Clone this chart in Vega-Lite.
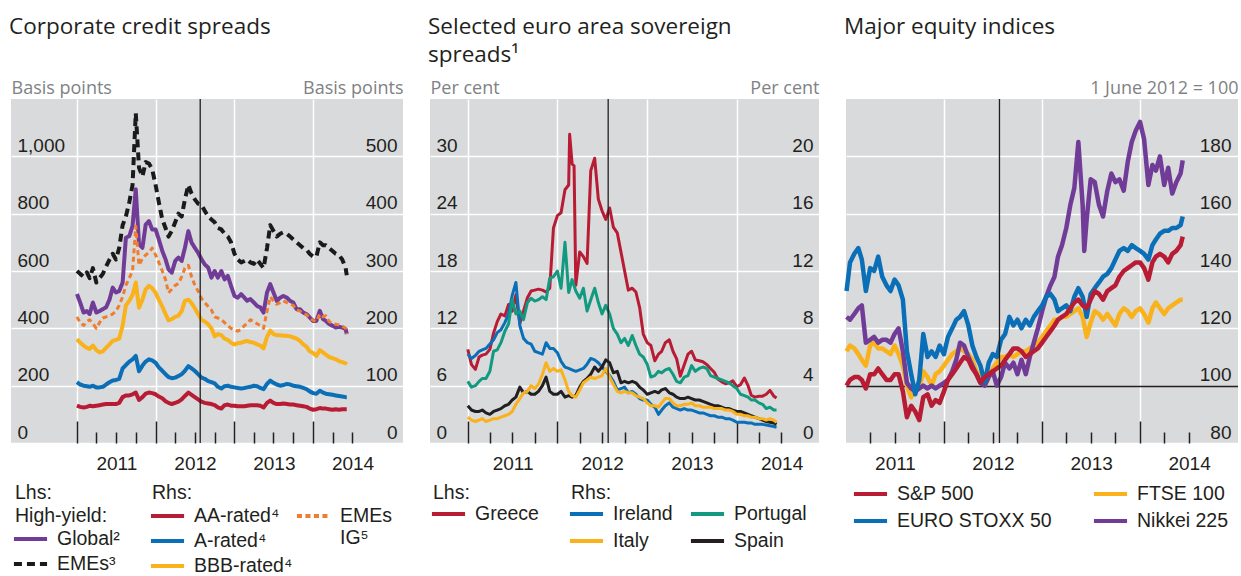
{
  "$schema": "https://vega.github.io/schema/vega-lite/v6.json",
  "background": "white",
  "padding": {"left": 9, "top": 16, "right": 0, "bottom": 0},
  "bounds": "flush",
  "spacing": 27,
  "resolve": {"scale": {"color": "independent", "strokeDash": "independent"}},
  "config": {
    "view": {"fill": "#d9dadb", "stroke": null},
    "font": "Liberation Sans",
    "mark": {"invalid": "filter"},
    "line": {"strokeJoin": "round"},
    "axis": {"domain": false, "labelFont": "Liberation Sans", "labelFontSize": 19, "labelColor": "#231f20", "labelOverlap": false, "titleFont": "Open Sans", "titleFontSize": 18, "titleFontWeight": "normal", "titleColor": "#808285"},
    "legend": {"orient": "none", "padding": 0, "symbolType": "M-1.25,0L1.25,0", "symbolSize": 702, "symbolStrokeWidth": 4, "labelFont": "Liberation Sans", "labelFontSize": 19.5, "labelColor": "#231f20", "labelOffset": 11, "labelLimit": 400, "titleFont": "Liberation Sans", "titleFontSize": 19.5, "titleFontWeight": "normal", "titleColor": "#231f20", "titleLineHeight": 23, "titlePadding": -3, "titleLimit": 400, "rowPadding": 0},
    "title": {"anchor": "start", "frame": "group", "font": "Open Sans", "fontSize": 22.5, "fontWeight": "normal", "color": "#231f20", "dx": -2, "lineHeight": 28}
  },
  "datasets": {
    "p1": [
      {"d":"2011-01-01","global":520,"emes":600,"aa":65,"a":106,"bbb":181,"emes_ig":220},
      {"d":"2011-01-16","global":490,"emes":590,"aa":63,"a":102,"bbb":175,"emes_ig":210},
      {"d":"2011-02-01","global":455,"emes":580,"aa":62,"a":100,"bbb":170,"emes_ig":205},
      {"d":"2011-02-16","global":460,"emes":595,"aa":63,"a":99,"bbb":166,"emes_ig":212},
      {"d":"2011-03-01","global":450,"emes":575,"aa":65,"a":98,"bbb":164,"emes_ig":215},
      {"d":"2011-03-16","global":490,"emes":610,"aa":64,"a":100,"bbb":170,"emes_ig":208},
      {"d":"2011-04-01","global":455,"emes":560,"aa":65,"a":97,"bbb":162,"emes_ig":200},
      {"d":"2011-04-16","global":460,"emes":575,"aa":66,"a":97,"bbb":158,"emes_ig":210},
      {"d":"2011-05-01","global":467,"emes":590,"aa":67,"a":98,"bbb":160,"emes_ig":218},
      {"d":"2011-05-16","global":473,"emes":615,"aa":68,"a":102,"bbb":166,"emes_ig":220},
      {"d":"2011-06-01","global":500,"emes":640,"aa":68,"a":106,"bbb":172,"emes_ig":222},
      {"d":"2011-06-16","global":542,"emes":660,"aa":68,"a":109,"bbb":178,"emes_ig":225},
      {"d":"2011-07-01","global":525,"emes":640,"aa":68,"a":110,"bbb":180,"emes_ig":230},
      {"d":"2011-07-16","global":530,"emes":680,"aa":70,"a":112,"bbb":182,"emes_ig":240},
      {"d":"2011-08-01","global":560,"emes":760,"aa":80,"a":130,"bbb":205,"emes_ig":255},
      {"d":"2011-08-16","global":716,"emes":790,"aa":83,"a":136,"bbb":240,"emes_ig":275},
      {"d":"2011-09-01","global":722,"emes":840,"aa":83,"a":142,"bbb":248,"emes_ig":288},
      {"d":"2011-09-16","global":757,"emes":900,"aa":85,"a":146,"bbb":258,"emes_ig":300},
      {"d":"2011-10-01","global":885,"emes":1150,"aa":88,"a":152,"bbb":280,"emes_ig":378},
      {"d":"2011-10-16","global":693,"emes":960,"aa":75,"a":125,"bbb":236,"emes_ig":310},
      {"d":"2011-11-01","global":681,"emes":930,"aa":80,"a":135,"bbb":250,"emes_ig":322},
      {"d":"2011-11-16","global":762,"emes":980,"aa":86,"a":142,"bbb":268,"emes_ig":328},
      {"d":"2011-12-01","global":774,"emes":975,"aa":88,"a":146,"bbb":274,"emes_ig":332},
      {"d":"2011-12-16","global":745,"emes":955,"aa":87,"a":144,"bbb":270,"emes_ig":340},
      {"d":"2012-01-01","global":745,"emes":900,"aa":85,"a":140,"bbb":262,"emes_ig":328},
      {"d":"2012-01-16","global":710,"emes":840,"aa":81,"a":132,"bbb":250,"emes_ig":315},
      {"d":"2012-02-01","global":670,"emes":780,"aa":78,"a":126,"bbb":238,"emes_ig":300},
      {"d":"2012-02-16","global":641,"emes":750,"aa":73,"a":120,"bbb":225,"emes_ig":285},
      {"d":"2012-03-01","global":606,"emes":720,"aa":70,"a":115,"bbb":214,"emes_ig":262},
      {"d":"2012-03-16","global":594,"emes":740,"aa":68,"a":113,"bbb":216,"emes_ig":268},
      {"d":"2012-04-01","global":635,"emes":770,"aa":70,"a":114,"bbb":220,"emes_ig":275},
      {"d":"2012-04-16","global":647,"emes":800,"aa":72,"a":117,"bbb":222,"emes_ig":278},
      {"d":"2012-05-01","global":635,"emes":790,"aa":76,"a":120,"bbb":230,"emes_ig":290},
      {"d":"2012-05-16","global":681,"emes":850,"aa":82,"a":126,"bbb":248,"emes_ig":305},
      {"d":"2012-06-01","global":739,"emes":900,"aa":88,"a":134,"bbb":250,"emes_ig":310},
      {"d":"2012-06-16","global":699,"emes":870,"aa":84,"a":130,"bbb":244,"emes_ig":290},
      {"d":"2012-07-01","global":681,"emes":850,"aa":80,"a":126,"bbb":235,"emes_ig":275},
      {"d":"2012-07-16","global":664,"emes":835,"aa":76,"a":120,"bbb":225,"emes_ig":265},
      {"d":"2012-08-01","global":641,"emes":830,"aa":72,"a":114,"bbb":215,"emes_ig":252},
      {"d":"2012-08-16","global":623,"emes":810,"aa":70,"a":112,"bbb":212,"emes_ig":245},
      {"d":"2012-09-01","global":612,"emes":790,"aa":69,"a":108,"bbb":207,"emes_ig":238},
      {"d":"2012-09-16","global":577,"emes":780,"aa":68,"a":106,"bbb":200,"emes_ig":232},
      {"d":"2012-10-01","global":600,"emes":770,"aa":66,"a":104,"bbb":186,"emes_ig":220},
      {"d":"2012-10-16","global":577,"emes":750,"aa":62,"a":98,"bbb":190,"emes_ig":218},
      {"d":"2012-11-01","global":600,"emes":745,"aa":60,"a":95,"bbb":188,"emes_ig":215},
      {"d":"2012-11-16","global":571,"emes":730,"aa":66,"a":99,"bbb":182,"emes_ig":210},
      {"d":"2012-12-01","global":583,"emes":720,"aa":67,"a":100,"bbb":180,"emes_ig":205},
      {"d":"2012-12-16","global":548,"emes":700,"aa":65,"a":98,"bbb":175,"emes_ig":200},
      {"d":"2013-01-01","global":513,"emes":660,"aa":65,"a":97,"bbb":172,"emes_ig":197},
      {"d":"2013-01-16","global":507,"emes":640,"aa":64,"a":96,"bbb":174,"emes_ig":195},
      {"d":"2013-02-01","global":519,"emes":630,"aa":64,"a":95,"bbb":175,"emes_ig":198},
      {"d":"2013-02-16","global":507,"emes":635,"aa":64,"a":96,"bbb":177,"emes_ig":205},
      {"d":"2013-03-01","global":496,"emes":640,"aa":65,"a":97,"bbb":178,"emes_ig":208},
      {"d":"2013-03-16","global":502,"emes":630,"aa":66,"a":98,"bbb":176,"emes_ig":215},
      {"d":"2013-04-01","global":490,"emes":625,"aa":66,"a":100,"bbb":175,"emes_ig":212},
      {"d":"2013-04-16","global":478,"emes":640,"aa":66,"a":99,"bbb":172,"emes_ig":208},
      {"d":"2013-05-01","global":473,"emes":625,"aa":65,"a":96,"bbb":170,"emes_ig":205},
      {"d":"2013-05-16","global":455,"emes":610,"aa":62,"a":94,"bbb":165,"emes_ig":200},
      {"d":"2013-06-01","global":525,"emes":680,"aa":70,"a":103,"bbb":185,"emes_ig":230},
      {"d":"2013-06-16","global":554,"emes":760,"aa":74,"a":109,"bbb":196,"emes_ig":255},
      {"d":"2013-07-01","global":525,"emes":740,"aa":70,"a":105,"bbb":190,"emes_ig":248},
      {"d":"2013-07-16","global":496,"emes":720,"aa":68,"a":102,"bbb":188,"emes_ig":242},
      {"d":"2013-08-01","global":507,"emes":730,"aa":68,"a":100,"bbb":188,"emes_ig":245},
      {"d":"2013-08-16","global":513,"emes":735,"aa":69,"a":101,"bbb":187,"emes_ig":248},
      {"d":"2013-09-01","global":507,"emes":730,"aa":68,"a":103,"bbb":187,"emes_ig":245},
      {"d":"2013-09-16","global":496,"emes":720,"aa":67,"a":102,"bbb":186,"emes_ig":242},
      {"d":"2013-10-01","global":490,"emes":710,"aa":67,"a":100,"bbb":184,"emes_ig":240},
      {"d":"2013-10-16","global":467,"emes":700,"aa":66,"a":99,"bbb":182,"emes_ig":232},
      {"d":"2013-11-01","global":467,"emes":690,"aa":65,"a":98,"bbb":178,"emes_ig":230},
      {"d":"2013-11-16","global":455,"emes":680,"aa":64,"a":96,"bbb":172,"emes_ig":226},
      {"d":"2013-12-01","global":450,"emes":675,"aa":63,"a":94,"bbb":168,"emes_ig":224},
      {"d":"2013-12-16","global":438,"emes":660,"aa":60,"a":90,"bbb":160,"emes_ig":218},
      {"d":"2014-01-01","global":426,"emes":650,"aa":58,"a":87,"bbb":157,"emes_ig":214},
      {"d":"2014-01-16","global":426,"emes":650,"aa":59,"a":86,"bbb":152,"emes_ig":212},
      {"d":"2014-02-01","global":461,"emes":700,"aa":61,"a":91,"bbb":162,"emes_ig":225},
      {"d":"2014-02-16","global":432,"emes":690,"aa":60,"a":88,"bbb":158,"emes_ig":220},
      {"d":"2014-03-01","global":426,"emes":690,"aa":60,"a":86,"bbb":154,"emes_ig":222},
      {"d":"2014-03-16","global":415,"emes":680,"aa":59,"a":85,"bbb":150,"emes_ig":212},
      {"d":"2014-04-01","global":409,"emes":670,"aa":58,"a":84,"bbb":148,"emes_ig":208},
      {"d":"2014-04-16","global":403,"emes":660,"aa":59,"a":83,"bbb":146,"emes_ig":207},
      {"d":"2014-05-01","global":405,"emes":655,"aa":58,"a":82,"bbb":143,"emes_ig":206},
      {"d":"2014-05-16","global":403,"emes":640,"aa":59,"a":81,"bbb":141,"emes_ig":204},
      {"d":"2014-06-01","global":397,"emes":610,"aa":59,"a":80,"bbb":139,"emes_ig":200},
      {"d":"2014-06-06","global":380,"emes":585,"aa":59,"a":80,"bbb":137,"emes_ig":190}
    ],
    "p2": [
      {"d":"2011-01-01","greece":9.8,"ireland":6.2,"italy":1.8,"portugal":4.3,"spain":2.6},
      {"d":"2011-01-16","greece":8.2,"ireland":5.9,"italy":1.6,"portugal":3.9,"spain":2.3},
      {"d":"2011-02-01","greece":7.7,"ireland":6.1,"italy":1.5,"portugal":4.0,"spain":2.2},
      {"d":"2011-02-16","greece":9.0,"ireland":6.4,"italy":1.6,"portugal":4.3,"spain":2.2},
      {"d":"2011-03-01","greece":9.2,"ireland":6.5,"italy":1.7,"portugal":4.5,"spain":2.3},
      {"d":"2011-03-16","greece":9.3,"ireland":6.6,"italy":1.5,"portugal":4.5,"spain":2.1},
      {"d":"2011-04-01","greece":9.8,"ireland":6.9,"italy":1.6,"portugal":5.0,"spain":2.0},
      {"d":"2011-04-16","greece":11.5,"ireland":7.2,"italy":1.7,"portugal":6.4,"spain":2.2},
      {"d":"2011-05-01","greece":12.7,"ireland":7.7,"italy":1.7,"portugal":6.5,"spain":2.3},
      {"d":"2011-05-16","greece":13.5,"ireland":7.9,"italy":1.8,"portugal":7.0,"spain":2.4},
      {"d":"2011-06-01","greece":13.3,"ireland":8.4,"italy":1.9,"portugal":7.8,"spain":2.6},
      {"d":"2011-06-16","greece":14.5,"ireland":9.0,"italy":2.0,"portugal":8.3,"spain":2.7},
      {"d":"2011-07-01","greece":13.8,"ireland":10.3,"italy":2.2,"portugal":10.0,"spain":3.0},
      {"d":"2011-07-16","greece":15.5,"ireland":11.2,"italy":2.7,"portugal":9.0,"spain":3.2},
      {"d":"2011-08-01","greece":12.5,"ireland":8.2,"italy":3.1,"portugal":9.2,"spain":3.9},
      {"d":"2011-08-16","greece":13.8,"ireland":7.3,"italy":3.5,"portugal":8.6,"spain":3.5},
      {"d":"2011-09-01","greece":15.2,"ireland":7.0,"italy":3.6,"portugal":9.8,"spain":3.6},
      {"d":"2011-09-16","greece":15.9,"ireland":6.9,"italy":4.0,"portugal":10.1,"spain":3.4},
      {"d":"2011-10-01","greece":16.0,"ireland":6.4,"italy":3.8,"portugal":9.9,"spain":3.4},
      {"d":"2011-10-16","greece":16.1,"ireland":6.3,"italy":4.1,"portugal":10.0,"spain":3.6},
      {"d":"2011-11-01","greece":16.0,"ireland":6.2,"italy":4.8,"portugal":10.2,"spain":4.0},
      {"d":"2011-11-16","greece":15.8,"ireland":7.0,"italy":5.6,"portugal":10.0,"spain":4.6},
      {"d":"2011-12-01","greece":16.2,"ireland":6.6,"italy":5.0,"portugal":11.5,"spain":3.6},
      {"d":"2011-12-16","greece":22.5,"ireland":6.6,"italy":5.2,"portugal":11.6,"spain":3.4},
      {"d":"2012-01-01","greece":23.8,"ireland":6.3,"italy":5.0,"portugal":12.0,"spain":3.4},
      {"d":"2012-01-16","greece":24.1,"ireland":5.7,"italy":5.1,"portugal":10.8,"spain":3.6},
      {"d":"2012-02-01","greece":26.5,"ireland":5.3,"italy":4.4,"portugal":14.0,"spain":3.2},
      {"d":"2012-02-16","greece":27.0,"ireland":5.2,"italy":3.6,"portugal":10.5,"spain":3.3},
      {"d":"2012-02-20","greece":32.3},
      {"d":"2012-03-01","greece":29.2,"ireland":5.1,"italy":3.3,"portugal":11.4,"spain":3.2},
      {"d":"2012-03-09","greece":29.0},
      {"d":"2012-03-16","greece":16.5,"ireland":5.0,"italy":3.2,"portugal":10.6,"spain":3.3},
      {"d":"2012-04-01","greece":20.0,"ireland":5.1,"italy":3.7,"portugal":10.1,"spain":3.9},
      {"d":"2012-04-16","greece":19.5,"ireland":5.2,"italy":4.2,"portugal":10.8,"spain":4.3},
      {"d":"2012-05-01","greece":18.8,"ireland":5.5,"italy":4.4,"portugal":9.2,"spain":4.5},
      {"d":"2012-05-16","greece":28.5,"ireland":5.9,"italy":4.6,"portugal":10.0,"spain":4.8},
      {"d":"2012-06-01","greece":29.8,"ireland":5.8,"italy":4.5,"portugal":10.8,"spain":5.3},
      {"d":"2012-06-16","greece":25.5,"ireland":5.6,"italy":4.6,"portugal":9.8,"spain":5.0},
      {"d":"2012-07-01","greece":24.3,"ireland":5.3,"italy":4.7,"portugal":9.0,"spain":5.3},
      {"d":"2012-07-16","greece":23.4,"ireland":5.0,"italy":5.2,"portugal":9.6,"spain":5.8},
      {"d":"2012-08-01","greece":24.6,"ireland":4.7,"italy":4.6,"portugal":9.0,"spain":5.6},
      {"d":"2012-08-16","greece":22.6,"ireland":4.3,"italy":4.1,"portugal":8.0,"spain":4.9},
      {"d":"2012-09-01","greece":22.0,"ireland":3.7,"italy":3.6,"portugal":7.6,"spain":5.0},
      {"d":"2012-09-16","greece":20.0,"ireland":3.8,"italy":3.5,"portugal":7.0,"spain":4.2},
      {"d":"2012-10-01","greece":18.0,"ireland":3.9,"italy":3.6,"portugal":7.3,"spain":4.3},
      {"d":"2012-10-16","greece":16.0,"ireland":3.5,"italy":3.5,"portugal":6.8,"spain":4.2},
      {"d":"2012-11-01","greece":16.2,"ireland":3.6,"italy":3.5,"portugal":7.5,"spain":4.3},
      {"d":"2012-11-16","greece":15.8,"ireland":3.4,"italy":3.3,"portugal":6.8,"spain":4.2},
      {"d":"2012-12-01","greece":14.2,"ireland":3.1,"italy":3.2,"portugal":6.2,"spain":3.9},
      {"d":"2012-12-16","greece":11.4,"ireland":3.0,"italy":3.1,"portugal":6.0,"spain":3.7},
      {"d":"2013-01-01","greece":10.5,"ireland":3.0,"italy":2.8,"portugal":5.5,"spain":3.4},
      {"d":"2013-01-16","greece":10.2,"ireland":2.7,"italy":2.6,"portugal":4.6,"spain":3.5},
      {"d":"2013-02-01","greece":8.6,"ireland":2.5,"italy":2.6,"portugal":4.7,"spain":3.6},
      {"d":"2013-02-16","greece":9.3,"ireland":2.0,"italy":2.5,"portugal":5.0,"spain":3.5},
      {"d":"2013-03-01","greece":9.6,"ireland":2.3,"italy":2.8,"portugal":4.9,"spain":3.7},
      {"d":"2013-03-16","greece":10.5,"ireland":2.6,"italy":3.1,"portugal":5.1,"spain":3.8},
      {"d":"2013-04-01","greece":10.8,"ireland":2.8,"italy":3.1,"portugal":5.2,"spain":3.5},
      {"d":"2013-04-16","greece":9.6,"ireland":2.5,"italy":2.8,"portugal":4.8,"spain":3.4},
      {"d":"2013-05-01","greece":8.8,"ireland":2.4,"italy":2.6,"portugal":4.3,"spain":3.2},
      {"d":"2013-05-16","greece":7.0,"ireland":2.3,"italy":2.6,"portugal":4.2,"spain":3.1},
      {"d":"2013-06-01","greece":8.2,"ireland":2.4,"italy":2.7,"portugal":4.6,"spain":3.1},
      {"d":"2013-06-16","greece":9.3,"ireland":2.3,"italy":2.7,"portugal":4.7,"spain":3.2},
      {"d":"2013-07-01","greece":9.6,"ireland":2.3,"italy":2.8,"portugal":5.4,"spain":3.1},
      {"d":"2013-07-16","greece":8.7,"ireland":2.2,"italy":2.6,"portugal":5.0,"spain":3.0},
      {"d":"2013-08-01","greece":8.6,"ireland":2.1,"italy":2.6,"portugal":5.2,"spain":3.0},
      {"d":"2013-08-16","greece":8.5,"ireland":2.1,"italy":2.5,"portugal":5.3,"spain":2.9},
      {"d":"2013-09-01","greece":8.2,"ireland":2.0,"italy":2.5,"portugal":5.2,"spain":2.8},
      {"d":"2013-09-16","greece":7.8,"ireland":1.9,"italy":2.5,"portugal":4.7,"spain":2.7},
      {"d":"2013-10-01","greece":7.4,"ireland":1.9,"italy":2.4,"portugal":4.6,"spain":2.6},
      {"d":"2013-10-16","greece":6.7,"ireland":1.8,"italy":2.4,"portugal":4.5,"spain":2.6},
      {"d":"2013-11-01","greece":6.4,"ireland":1.8,"italy":2.4,"portugal":4.4,"spain":2.5},
      {"d":"2013-11-16","greece":6.2,"ireland":1.7,"italy":2.3,"portugal":4.3,"spain":2.4},
      {"d":"2013-12-01","greece":6.3,"ireland":1.7,"italy":2.3,"portugal":4.2,"spain":2.4},
      {"d":"2013-12-16","greece":6.5,"ireland":1.6,"italy":2.2,"portugal":4.0,"spain":2.3},
      {"d":"2014-01-01","greece":5.9,"ireland":1.45,"italy":2.0,"portugal":3.8,"spain":2.2},
      {"d":"2014-01-16","greece":6.1,"ireland":1.45,"italy":2.0,"portugal":3.4,"spain":2.2},
      {"d":"2014-02-01","greece":6.8,"ireland":1.45,"italy":1.9,"portugal":3.3,"spain":2.1},
      {"d":"2014-02-16","greece":6.0,"ireland":1.4,"italy":1.9,"portugal":3.2,"spain":2.0},
      {"d":"2014-03-01","greece":5.0,"ireland":1.4,"italy":1.8,"portugal":3.0,"spain":1.9},
      {"d":"2014-03-16","greece":4.8,"ireland":1.3,"italy":1.8,"portugal":3.0,"spain":1.8},
      {"d":"2014-04-01","greece":4.9,"ireland":1.3,"italy":1.7,"portugal":2.8,"spain":1.7},
      {"d":"2014-04-16","greece":4.9,"ireland":1.3,"italy":1.7,"portugal":2.7,"spain":1.6},
      {"d":"2014-05-01","greece":5.1,"ireland":1.25,"italy":1.6,"portugal":2.4,"spain":1.5},
      {"d":"2014-05-16","greece":5.5,"ireland":1.2,"italy":1.7,"portugal":2.5,"spain":1.45},
      {"d":"2014-06-01","greece":4.9,"ireland":1.15,"italy":1.6,"portugal":2.3,"spain":1.4},
      {"d":"2014-06-12","greece":4.7,"ireland":1.1,"italy":1.45,"portugal":2.3,"spain":1.3}
    ],
    "p3": [
      {"d":"2011-01-03","sp500":100,"eurostoxx50":133,"ftse100":112,"nikkei225":124},
      {"d":"2011-01-16","sp500":102,"eurostoxx50":143,"ftse100":114,"nikkei225":123},
      {"d":"2011-02-01","sp500":103,"eurostoxx50":146,"ftse100":113,"nikkei225":125},
      {"d":"2011-02-16","sp500":103,"eurostoxx50":148,"ftse100":111,"nikkei225":127},
      {"d":"2011-03-01","sp500":102,"eurostoxx50":144,"ftse100":109,"nikkei225":128},
      {"d":"2011-03-16","sp500":99,"eurostoxx50":133,"ftse100":107,"nikkei225":115},
      {"d":"2011-04-01","sp500":104,"eurostoxx50":141,"ftse100":114,"nikkei225":116},
      {"d":"2011-04-16","sp500":104,"eurostoxx50":140,"ftse100":115,"nikkei225":117},
      {"d":"2011-05-01","sp500":106,"eurostoxx50":145,"ftse100":113,"nikkei225":115},
      {"d":"2011-05-16","sp500":104,"eurostoxx50":138,"ftse100":113,"nikkei225":116},
      {"d":"2011-06-01","sp500":102,"eurostoxx50":135,"ftse100":112,"nikkei225":116},
      {"d":"2011-06-16","sp500":102,"eurostoxx50":133,"ftse100":111,"nikkei225":115},
      {"d":"2011-07-01","sp500":104,"eurostoxx50":137,"ftse100":114,"nikkei225":118},
      {"d":"2011-07-16","sp500":104,"eurostoxx50":135,"ftse100":111,"nikkei225":120},
      {"d":"2011-08-01","sp500":98,"eurostoxx50":130,"ftse100":107,"nikkei225":112},
      {"d":"2011-08-16","sp500":89,"eurostoxx50":112,"ftse100":100,"nikkei225":101},
      {"d":"2011-09-01","sp500":93,"eurostoxx50":104,"ftse100":96,"nikkei225":99},
      {"d":"2011-09-16","sp500":91,"eurostoxx50":97,"ftse100":100,"nikkei225":98},
      {"d":"2011-10-01","sp500":88,"eurostoxx50":102,"ftse100":99,"nikkei225":99},
      {"d":"2011-10-16","sp500":96,"eurostoxx50":118,"ftse100":105,"nikkei225":100},
      {"d":"2011-11-01","sp500":97,"eurostoxx50":110,"ftse100":103,"nikkei225":99},
      {"d":"2011-11-16","sp500":93,"eurostoxx50":112,"ftse100":100,"nikkei225":100},
      {"d":"2011-12-01","sp500":95,"eurostoxx50":110,"ftse100":104,"nikkei225":99},
      {"d":"2011-12-16","sp500":94,"eurostoxx50":114,"ftse100":105,"nikkei225":100},
      {"d":"2012-01-01","sp500":98,"eurostoxx50":111,"ftse100":107,"nikkei225":101},
      {"d":"2012-01-16","sp500":102,"eurostoxx50":117,"ftse100":109,"nikkei225":102},
      {"d":"2012-02-01","sp500":104,"eurostoxx50":120,"ftse100":111,"nikkei225":105},
      {"d":"2012-02-16","sp500":106,"eurostoxx50":123,"ftse100":112,"nikkei225":109},
      {"d":"2012-03-01","sp500":108,"eurostoxx50":124,"ftse100":113,"nikkei225":115},
      {"d":"2012-03-16","sp500":110,"eurostoxx50":126,"ftse100":112,"nikkei225":114},
      {"d":"2012-04-01","sp500":109,"eurostoxx50":121,"ftse100":111,"nikkei225":110},
      {"d":"2012-04-16","sp500":106,"eurostoxx50":114,"ftse100":109,"nikkei225":107},
      {"d":"2012-05-01","sp500":104,"eurostoxx50":110,"ftse100":105,"nikkei225":104},
      {"d":"2012-05-16","sp500":101,"eurostoxx50":107,"ftse100":103,"nikkei225":101},
      {"d":"2012-06-01","sp500":103,"eurostoxx50":101,"ftse100":100,"nikkei225":100},
      {"d":"2012-06-16","sp500":104,"eurostoxx50":108,"ftse100":103,"nikkei225":103},
      {"d":"2012-07-01","sp500":105,"eurostoxx50":111,"ftse100":106,"nikkei225":105},
      {"d":"2012-07-16","sp500":106,"eurostoxx50":110,"ftse100":108,"nikkei225":100},
      {"d":"2012-08-01","sp500":107,"eurostoxx50":116,"ftse100":110,"nikkei225":103},
      {"d":"2012-08-16","sp500":109,"eurostoxx50":118,"ftse100":110,"nikkei225":108},
      {"d":"2012-09-01","sp500":111,"eurostoxx50":124,"ftse100":111,"nikkei225":106},
      {"d":"2012-09-16","sp500":113,"eurostoxx50":121,"ftse100":110,"nikkei225":108},
      {"d":"2012-10-01","sp500":113,"eurostoxx50":123,"ftse100":111,"nikkei225":104},
      {"d":"2012-10-16","sp500":112,"eurostoxx50":120,"ftse100":112,"nikkei225":109},
      {"d":"2012-11-01","sp500":110,"eurostoxx50":123,"ftse100":112,"nikkei225":104},
      {"d":"2012-11-16","sp500":111,"eurostoxx50":121,"ftse100":113,"nikkei225":110},
      {"d":"2012-12-01","sp500":112,"eurostoxx50":124,"ftse100":114,"nikkei225":115},
      {"d":"2012-12-16","sp500":113,"eurostoxx50":126,"ftse100":115,"nikkei225":120},
      {"d":"2013-01-01","sp500":115,"eurostoxx50":128,"ftse100":117,"nikkei225":126},
      {"d":"2013-01-16","sp500":117,"eurostoxx50":131,"ftse100":119,"nikkei225":131},
      {"d":"2013-02-01","sp500":119,"eurostoxx50":132,"ftse100":121,"nikkei225":135},
      {"d":"2013-02-16","sp500":121,"eurostoxx50":130,"ftse100":123,"nikkei225":138},
      {"d":"2013-03-01","sp500":123,"eurostoxx50":126,"ftse100":123,"nikkei225":145},
      {"d":"2013-03-16","sp500":124,"eurostoxx50":127,"ftse100":124,"nikkei225":149},
      {"d":"2013-04-01","sp500":125,"eurostoxx50":128,"ftse100":124,"nikkei225":155},
      {"d":"2013-04-16","sp500":127,"eurostoxx50":126,"ftse100":125,"nikkei225":163},
      {"d":"2013-05-01","sp500":129,"eurostoxx50":131,"ftse100":126,"nikkei225":169},
      {"d":"2013-05-16","sp500":130,"eurostoxx50":134,"ftse100":127,"nikkei225":185},
      {"d":"2013-06-01","sp500":128,"eurostoxx50":131,"ftse100":124,"nikkei225":163},
      {"d":"2013-06-07","nikkei225":147},
      {"d":"2013-06-16","sp500":127,"eurostoxx50":124,"ftse100":117,"nikkei225":158},
      {"d":"2013-07-01","sp500":130,"eurostoxx50":132,"ftse100":122,"nikkei225":172},
      {"d":"2013-07-16","sp500":133,"eurostoxx50":134,"ftse100":126,"nikkei225":171},
      {"d":"2013-08-01","sp500":132,"eurostoxx50":136,"ftse100":125,"nikkei225":163},
      {"d":"2013-08-16","sp500":130,"eurostoxx50":138,"ftse100":123,"nikkei225":159},
      {"d":"2013-09-01","sp500":133,"eurostoxx50":139,"ftse100":125,"nikkei225":168},
      {"d":"2013-09-16","sp500":134,"eurostoxx50":141,"ftse100":123,"nikkei225":174},
      {"d":"2013-10-01","sp500":135,"eurostoxx50":144,"ftse100":121,"nikkei225":171},
      {"d":"2013-10-16","sp500":138,"eurostoxx50":147,"ftse100":125,"nikkei225":172},
      {"d":"2013-11-01","sp500":140,"eurostoxx50":148,"ftse100":127,"nikkei225":168},
      {"d":"2013-11-16","sp500":141,"eurostoxx50":147,"ftse100":126,"nikkei225":178},
      {"d":"2013-12-01","sp500":142,"eurostoxx50":149,"ftse100":124,"nikkei225":185},
      {"d":"2013-12-16","sp500":143,"eurostoxx50":148,"ftse100":126,"nikkei225":189},
      {"d":"2014-01-01","sp500":143,"eurostoxx50":147,"ftse100":127,"nikkei225":192},
      {"d":"2014-01-16","sp500":141,"eurostoxx50":146,"ftse100":125,"nikkei225":186},
      {"d":"2014-02-01","sp500":137,"eurostoxx50":144,"ftse100":122,"nikkei225":170},
      {"d":"2014-02-16","sp500":143,"eurostoxx50":149,"ftse100":127,"nikkei225":177},
      {"d":"2014-03-01","sp500":145,"eurostoxx50":151,"ftse100":129,"nikkei225":175},
      {"d":"2014-03-16","sp500":146,"eurostoxx50":153,"ftse100":127,"nikkei225":180},
      {"d":"2014-04-01","sp500":145,"eurostoxx50":154,"ftse100":125,"nikkei225":170},
      {"d":"2014-04-16","sp500":143,"eurostoxx50":154,"ftse100":127,"nikkei225":176},
      {"d":"2014-05-01","sp500":146,"eurostoxx50":155,"ftse100":128,"nikkei225":167},
      {"d":"2014-05-16","sp500":147,"eurostoxx50":155,"ftse100":129,"nikkei225":171},
      {"d":"2014-06-01","sp500":149,"eurostoxx50":156,"ftse100":130,"nikkei225":174},
      {"d":"2014-06-09","sp500":152,"eurostoxx50":159,"ftse100":130,"nikkei225":178.6}
    ]
  },
  "hconcat": [
    {
      "width": 392,
      "height": 344,
      "title": {"text": "Corporate credit spreads", "offset": 40.5},
      "layer": [
        {
          "data": {"name": "p1"},
          "transform": [{"fold": ["emes", "global"], "as": ["series", "value"]}],
          "mark": {"type": "line", "strokeWidth": 4},
          "encoding": {
            "x": {"field": "d", "type": "temporal",
              "scale": {"type": "utc", "domain": [{"year": 2010, "month": 3, "date": 1, "utc": true}, {"year": 2015, "month": 2, "date": 22, "utc": true}]},
              "axis": {"orient": "bottom", "title": null, "format": "%Y",
                "values": [{"year": 2011, "month": 1, "date": 1, "utc": true}, {"year": 2012, "month": 1, "date": 1, "utc": true}, {"year": 2013, "month": 1, "date": 1, "utc": true}, {"year": 2014, "month": 1, "date": 1, "utc": true}],
                "ticks": true, "tickSize": -22, "tickWidth": 1.5, "tickColor": "#231f20",
                "labelOffset": 39.4, "labelPadding": 48, "labelBaseline": "alphabetic", "labelAlign": "center", "labelFlush": false,
                "grid": true, "gridColor": "white", "gridWidth": 1.5}},
            "y": {"field": "value", "type": "quantitative", "scale": {"domain": [0, 1200]},
              "axis": {"orient": "left", "values": [0, 200, 400, 600, 800, 1000], "format": ",.0f",
                "title": "Basis points", "titleAngle": 0, "titleAlign": "left", "titleBaseline": "alphabetic", "titleX": 0, "titleY": -6,
                "ticks": false, "labelAlign": "left", "labelPadding": -6, "labelBaseline": "alphabetic", "labelOffset": -5,
                "grid": true, "gridColor": "white", "gridWidth": 1.5}},
            "color": {"field": "series", "type": "nominal",
              "scale": {"domain": ["global", "emes"], "range": ["#713c97", "#1a1a1a"]},
              "legend": {"title": ["Lhs:", "High-yield:"], "legendX": 4, "legendY": 385, "labelExpr": "datum.label == 'global' ? 'Global²' : 'EMEs³'"}},
            "strokeDash": {"field": "series", "type": "nominal",
              "scale": {"domain": ["global", "emes"], "range": [[1, 0], [8, 5]]},
              "legend": {"title": ["Lhs:", "High-yield:"], "legendX": 4, "legendY": 385, "labelExpr": "datum.label == 'global' ? 'Global²' : 'EMEs³'"}}
          }
        },
        {
          "data": {"name": "p1"},
          "transform": [{"fold": ["aa", "a", "bbb"], "as": ["series", "value"]}],
          "mark": {"type": "line", "strokeWidth": 4},
          "encoding": {
            "x": {"field": "d", "type": "temporal", "scale": {"type": "utc"},
              "axis": {"orient": "bottom", "title": null, "labels": false, "grid": false,
                "values": [{"year": 2011, "month": 4, "date": 1, "utc": true}, {"year": 2011, "month": 7, "date": 1, "utc": true}, {"year": 2011, "month": 10, "date": 1, "utc": true}, {"year": 2012, "month": 4, "date": 1, "utc": true}, {"year": 2012, "month": 7, "date": 1, "utc": true}, {"year": 2012, "month": 10, "date": 1, "utc": true}, {"year": 2013, "month": 4, "date": 1, "utc": true}, {"year": 2013, "month": 7, "date": 1, "utc": true}, {"year": 2013, "month": 10, "date": 1, "utc": true}, {"year": 2014, "month": 4, "date": 1, "utc": true}, {"year": 2014, "month": 7, "date": 1, "utc": true}],
                "ticks": true, "tickSize": -11, "tickWidth": 1.5, "tickColor": "#231f20"}},
            "y": {"field": "value", "type": "quantitative", "scale": {"domain": [0, 600]},
              "axis": {"orient": "right", "values": [0, 100, 200, 300, 400, 500],
                "title": "Basis points", "titleAngle": 0, "titleAlign": "right", "titleBaseline": "alphabetic", "titleX": 0, "titleY": -6,
                "ticks": false, "labelAlign": "right", "labelPadding": -6, "labelBaseline": "alphabetic", "labelOffset": -5, "grid": false}},
            "color": {"field": "series", "type": "nominal",
              "scale": {"domain": ["aa", "a", "bbb"], "range": ["#b71c34", "#0a6fb7", "#f9b21b"]},
              "legend": {"title": "Rhs:", "legendX": 141, "legendY": 385, "labelExpr": "datum.label == 'aa' ? 'AA-rated⁴' : datum.label == 'a' ? 'A-rated⁴' : 'BBB-rated⁴'"}}
          }
        },
        {
          "data": {"name": "p1"},
          "transform": [{"fold": ["emes_ig"], "as": ["series", "value"]}],
          "mark": {"type": "line", "strokeWidth": 3},
          "encoding": {
            "x": {"field": "d", "type": "temporal", "scale": {"type": "utc"}, "axis": null},
            "y": {"field": "value", "type": "quantitative", "scale": {"domain": [0, 600]}, "axis": null},
            "color": {"field": "series", "type": "nominal",
              "scale": {"domain": ["emes_ig"], "range": ["#ef7d2d"]},
              "legend": {"title": null, "legendX": 287, "legendY": 401.5, "labelExpr": "['EMEs', 'IG⁵']"}},
            "strokeDash": {"field": "series", "type": "nominal",
              "scale": {"domain": ["emes_ig"], "range": [[5, 3.5]]},
              "legend": {"title": null, "legendX": 287, "legendY": 401.5, "labelExpr": "['EMEs', 'IG⁵']"}}
          }
        },
        {
          "data": {"values": [{"d": "2012-07-26"}]},
          "mark": {"type": "rule", "color": "#231f20", "strokeWidth": 1.3},
          "encoding": {
            "x": {"field": "d", "type": "temporal", "scale": {"type": "utc"}, "axis": null}
          }
        }
      ],
      "resolve": {"scale": {"y": "independent", "color": "independent", "strokeDash": "independent"}, "axis": {"x": "independent"}}
    },
    {
      "width": 389,
      "height": 344,
      "title": {"text": ["Selected euro area sovereign", "spreads¹"], "offset": 12.5},
      "layer": [
        {
          "data": {"name": "p2"},
          "transform": [{"fold": ["greece"], "as": ["series", "value"]}],
          "mark": {"type": "line", "strokeWidth": 3},
          "encoding": {
            "x": {"field": "d", "type": "temporal",
              "scale": {"type": "utc", "domain": [{"year": 2010, "month": 7, "date": 31, "utc": true}, {"year": 2014, "month": 12, "date": 2, "utc": true}]},
              "axis": {"orient": "bottom", "title": null, "format": "%Y",
                "values": [{"year": 2011, "month": 1, "date": 1, "utc": true}, {"year": 2012, "month": 1, "date": 1, "utc": true}, {"year": 2013, "month": 1, "date": 1, "utc": true}, {"year": 2014, "month": 1, "date": 1, "utc": true}],
                "ticks": true, "tickSize": -22, "tickWidth": 1.5, "tickColor": "#231f20",
                "labelOffset": 44.8, "labelPadding": 48, "labelBaseline": "alphabetic", "labelAlign": "center", "labelFlush": false,
                "grid": true, "gridColor": "white", "gridWidth": 1.5}},
            "y": {"field": "value", "type": "quantitative", "scale": {"domain": [0, 36]},
              "axis": {"orient": "left", "values": [0, 6, 12, 18, 24, 30],
                "title": "Per cent", "titleAngle": 0, "titleAlign": "left", "titleBaseline": "alphabetic", "titleX": 0, "titleY": -6,
                "ticks": false, "labelAlign": "left", "labelPadding": -6, "labelBaseline": "alphabetic", "labelOffset": -5,
                "grid": true, "gridColor": "white", "gridWidth": 1.5}},
            "color": {"field": "series", "type": "nominal",
              "scale": {"domain": ["greece"], "range": ["#b71c34"]},
              "legend": {"title": "Lhs:", "legendX": 3, "legendY": 385, "titlePadding": -5, "labelExpr": "'Greece'"}}
          }
        },
        {
          "data": {"name": "p2"},
          "transform": [{"fold": ["ireland", "portugal", "spain", "italy"], "as": ["series", "value"]}],
          "mark": {"type": "line", "strokeWidth": 3},
          "encoding": {
            "x": {"field": "d", "type": "temporal", "scale": {"type": "utc"},
              "axis": {"orient": "bottom", "title": null, "labels": false, "grid": false,
                "values": [{"year": 2011, "month": 4, "date": 1, "utc": true}, {"year": 2011, "month": 7, "date": 1, "utc": true}, {"year": 2011, "month": 10, "date": 1, "utc": true}, {"year": 2012, "month": 4, "date": 1, "utc": true}, {"year": 2012, "month": 7, "date": 1, "utc": true}, {"year": 2012, "month": 10, "date": 1, "utc": true}, {"year": 2013, "month": 4, "date": 1, "utc": true}, {"year": 2013, "month": 7, "date": 1, "utc": true}, {"year": 2013, "month": 10, "date": 1, "utc": true}, {"year": 2014, "month": 4, "date": 1, "utc": true}, {"year": 2014, "month": 7, "date": 1, "utc": true}],
                "ticks": true, "tickSize": -11, "tickWidth": 1.5, "tickColor": "#231f20"}},
            "y": {"field": "value", "type": "quantitative", "scale": {"domain": [0, 24]},
              "axis": {"orient": "right", "values": [0, 4, 8, 12, 16, 20],
                "title": "Per cent", "titleAngle": 0, "titleAlign": "right", "titleBaseline": "alphabetic", "titleX": 0, "titleY": -6,
                "ticks": false, "labelAlign": "right", "labelPadding": -6, "labelBaseline": "alphabetic", "labelOffset": -5, "grid": false}},
            "color": {"field": "series", "type": "nominal",
              "scale": {"domain": ["ireland", "italy", "portugal", "spain"], "range": ["#0a6fb7", "#f9b21b", "#129a80", "#231f20"]},
              "legend": {"title": "Rhs:", "legendX": 141, "legendY": 385, "titlePadding": -5, "columns": 2, "columnPadding": 15, "rowPadding": 2,
                "labelExpr": "datum.label == 'ireland' ? 'Ireland' : datum.label == 'italy' ? 'Italy' : datum.label == 'portugal' ? 'Portugal' : 'Spain'"}}
          }
        },
        {
          "data": {"values": [{"d": "2012-07-26"}]},
          "mark": {"type": "rule", "color": "#231f20", "strokeWidth": 1.3},
          "encoding": {
            "x": {"field": "d", "type": "temporal", "scale": {"type": "utc"}, "axis": null}
          }
        }
      ],
      "resolve": {"scale": {"y": "independent", "color": "independent"}, "axis": {"x": "independent"}}
    },
    {
      "width": 392,
      "height": 344,
      "title": {"text": "Major equity indices", "offset": 40.5},
      "layer": [
        {
          "data": {"name": "p3"},
          "transform": [{"fold": ["ftse100", "nikkei225", "eurostoxx50", "sp500"], "as": ["series", "value"]}],
          "mark": {"type": "line", "strokeWidth": 4.5},
          "encoding": {
            "x": {"field": "d", "type": "temporal",
              "scale": {"type": "utc", "domain": [{"year": 2011, "month": 1, "date": 1, "utc": true}, {"year": 2015, "month": 1, "date": 1, "utc": true}]},
              "axis": {"orient": "bottom", "title": null, "format": "%Y",
                "values": [{"year": 2011, "month": 1, "date": 1, "utc": true}, {"year": 2012, "month": 1, "date": 1, "utc": true}, {"year": 2013, "month": 1, "date": 1, "utc": true}, {"year": 2014, "month": 1, "date": 1, "utc": true}],
                "ticks": true, "tickSize": -22, "tickWidth": 1.5,
                "tickColor": {"condition": {"test": "utcyear(datum.value) < 2012", "value": "rgba(0,0,0,0)"}, "value": "#231f20"},
                "labelOffset": 49, "labelPadding": 48, "labelBaseline": "alphabetic", "labelAlign": "center", "labelFlush": false,
                "grid": true, "gridWidth": 1.5,
                "gridColor": {"condition": {"test": "utcyear(datum.value) < 2012", "value": "rgba(0,0,0,0)"}, "value": "white"}}},
            "y": {"field": "value", "type": "quantitative", "scale": {"domain": [80, 200]},
              "axis": {"orient": "right", "values": [80, 100, 120, 140, 160, 180],
                "title": "1 June 2012 = 100", "titleAngle": 0, "titleAlign": "right", "titleBaseline": "alphabetic", "titleX": 0, "titleY": -6,
                "ticks": false, "labelAlign": "right", "labelPadding": -7, "labelBaseline": "alphabetic", "labelOffset": -5,
                "grid": true, "gridWidth": 1.5,
                "gridColor": {"condition": {"test": "datum.value == 100", "value": "#231f20"}, "value": "white"}}},
            "color": {"field": "series", "type": "nominal",
              "scale": {"domain": ["sp500", "eurostoxx50", "ftse100", "nikkei225"], "range": ["#b71c34", "#0a6fb7", "#f9b21b", "#713c97"]},
              "legend": {"title": null, "legendX": 9, "legendY": 379.5, "columns": 2, "columnPadding": 39, "rowPadding": 2,
                "labelExpr": "datum.label == 'sp500' ? 'S&P 500' : datum.label == 'eurostoxx50' ? 'EURO STOXX 50' : datum.label == 'ftse100' ? 'FTSE 100' : 'Nikkei 225'"}}
          }
        },
        {
          "data": {"values": [{"d": "2012-07-26"}]},
          "mark": {"type": "rule", "color": "#231f20", "strokeWidth": 1.3},
          "encoding": {
            "x": {"field": "d", "type": "temporal", "scale": {"type": "utc"},
              "axis": {"orient": "bottom", "title": null, "labels": false, "grid": false,
                "values": [{"year": 2011, "month": 4, "date": 1, "utc": true}, {"year": 2011, "month": 7, "date": 1, "utc": true}, {"year": 2011, "month": 10, "date": 1, "utc": true}, {"year": 2012, "month": 4, "date": 1, "utc": true}, {"year": 2012, "month": 7, "date": 1, "utc": true}, {"year": 2012, "month": 10, "date": 1, "utc": true}, {"year": 2013, "month": 4, "date": 1, "utc": true}, {"year": 2013, "month": 7, "date": 1, "utc": true}, {"year": 2013, "month": 10, "date": 1, "utc": true}, {"year": 2014, "month": 4, "date": 1, "utc": true}, {"year": 2014, "month": 7, "date": 1, "utc": true}],
                "ticks": true, "tickSize": -11, "tickWidth": 1.5, "tickColor": "#231f20"}}
          }
        }
      ],
      "resolve": {"axis": {"x": "independent"}}
    }
  ]
}
